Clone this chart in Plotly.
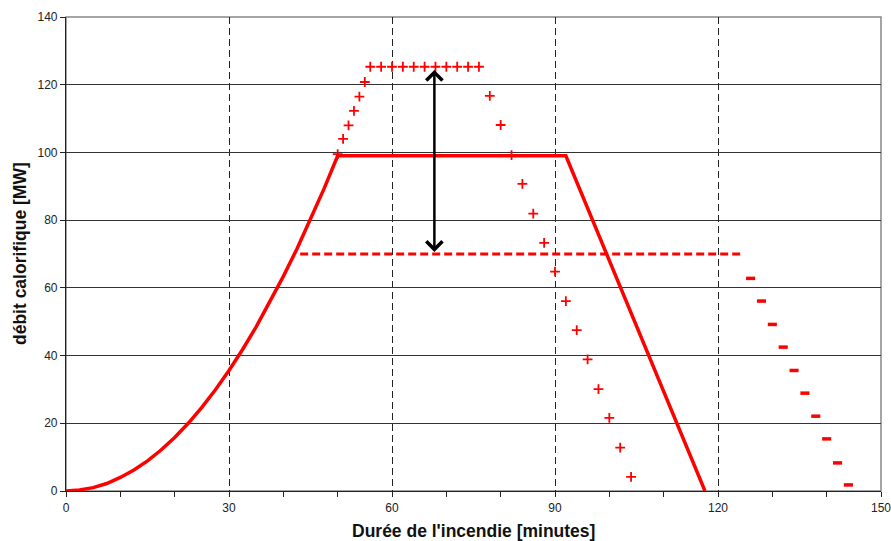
import plotly.graph_objects as go

# Main fire curve (solid)
main_t = [0, 2.5, 5, 7.5, 10, 12.5, 15, 17.5, 20, 22.5, 25, 27.5, 30, 32.5, 35,
          37.5, 40, 42.5, 45, 47.5, 50, 92, 117.6]
main_q = [0, 0.3, 1.0, 2.2, 4.0, 6.2, 8.9, 12.1, 15.8, 20.0, 24.7, 29.9, 35.6, 41.8, 48.5,
          55.7, 63.4, 71.5, 80.2, 89.3, 99, 99, 0]

# Dashed level
dash_t = [43.1, 124.4]
dash_q = [70, 70]

# Plus-marker series
plus_t = [50, 51, 52, 53, 54, 55,
          56, 58, 60, 62, 64, 66, 68, 70, 72, 74, 76,
          78, 80, 82, 84, 86, 88, 90, 92, 94, 96, 98, 100, 102, 104]
plus_q = [99.5, 104, 108, 112.3, 116.5, 120.8,
          125.3, 125.3, 125.3, 125.3, 125.3, 125.3, 125.3, 125.3, 125.3, 125.3, 125.3,
          116.7, 108.1, 99.2, 90.7, 81.9, 73.3, 64.8, 56.1, 47.5, 38.9, 30.1, 21.6, 12.8, 4.2]

# Minus-marker series
minus_t = [126, 128, 130, 132, 134, 136, 138, 140, 142, 144]
minus_q = [62.8, 56.1, 49.2, 42.5, 35.6, 28.9, 22.1, 15.4, 8.3, 1.8]

# Arrow (difference)
arrow_t = 67.8
arrow_top = 124.8
arrow_bottom = 70.6

x_ticks = list(range(0, 151, 30))
y_ticks = list(range(0, 141, 20))

x_title = "Durée de l'incendie [minutes]"
y_title = "débit calorifique [MW]"

RED = "#FF0000"
fig = go.Figure()
fig.add_trace(go.Scatter(x=main_t, y=main_q, mode="lines",
                         line=dict(color=RED, width=3.5), showlegend=False))
fig.add_trace(go.Scatter(x=dash_t, y=dash_q, mode="lines",
                         line=dict(color=RED, width=3, dash="8px,4px"), showlegend=False))
fig.add_trace(go.Scatter(x=plus_t, y=plus_q, mode="markers",
                         marker=dict(symbol="cross-thin", size=7, line=dict(color=RED, width=1.8)),
                         showlegend=False))
fig.add_trace(go.Scatter(x=minus_t, y=minus_q, mode="markers",
                         marker=dict(symbol="line-ew", size=6.5, line=dict(color=RED, width=3.5)),
                         showlegend=False))

fig.add_annotation(x=arrow_t, y=arrow_bottom, ax=arrow_t, ay=arrow_top,
                   xref="x", yref="y", axref="x", ayref="y", text="",
                   showarrow=True, arrowhead=4, startarrowhead=4, arrowside="end+start",
                   arrowsize=1.25, startarrowsize=1.25, arrowwidth=2.5, arrowcolor="black",
                   standoff=0, startstandoff=0)

fig.add_annotation(x=0.5, y=-0.0844, xref="paper", yref="paper", text="<b>" + x_title + "</b>",
                   showarrow=False, font=dict(size=17.5, color="#111"),
                   xanchor="center", yanchor="middle")
fig.add_annotation(x=-0.0564, y=0.5, xref="paper", yref="paper", text="<b>" + y_title + "</b>",
                   showarrow=False, font=dict(size=17.5, color="#111"), textangle=-90,
                   xanchor="center", yanchor="middle")

fig.update_layout(
    width=891, height=541,
    margin=dict(l=66, r=10, t=17, b=50),
    paper_bgcolor="white", plot_bgcolor="white",
    font=dict(family="Liberation Sans, Arial, sans-serif", size=12, color="#222"),
    xaxis=dict(range=[0, 150], tickvals=x_ticks, ticks="outside", ticklen=5,
               tickcolor="#222", showline=True, linecolor="#222", linewidth=1.2,
               showgrid=True, gridcolor="#222", gridwidth=1, griddash="7px,4px",
               zeroline=False, automargin=False, ticklabeloverflow="allow",
               minor=dict(dtick=10, ticks="outside", ticklen=5, tickcolor="#222", showgrid=False)),
    yaxis=dict(range=[0, 140], tickvals=y_ticks, ticks="outside", ticklen=5,
               tickcolor="#222", showline=True, linecolor="#222", linewidth=1.2,
               showgrid=True, gridcolor="#333", gridwidth=1, zeroline=False, automargin=False,
               ticklabeloverflow="allow"),
)
fig.add_shape(type="rect", xref="paper", yref="paper", x0=0, y0=0, x1=1, y1=1,
              line=dict(color="#888", width=1.5), layer="below")
fig.write_html("out.html", config={"displayModeBar": False},
               post_script="document.body.style.margin='0';")
